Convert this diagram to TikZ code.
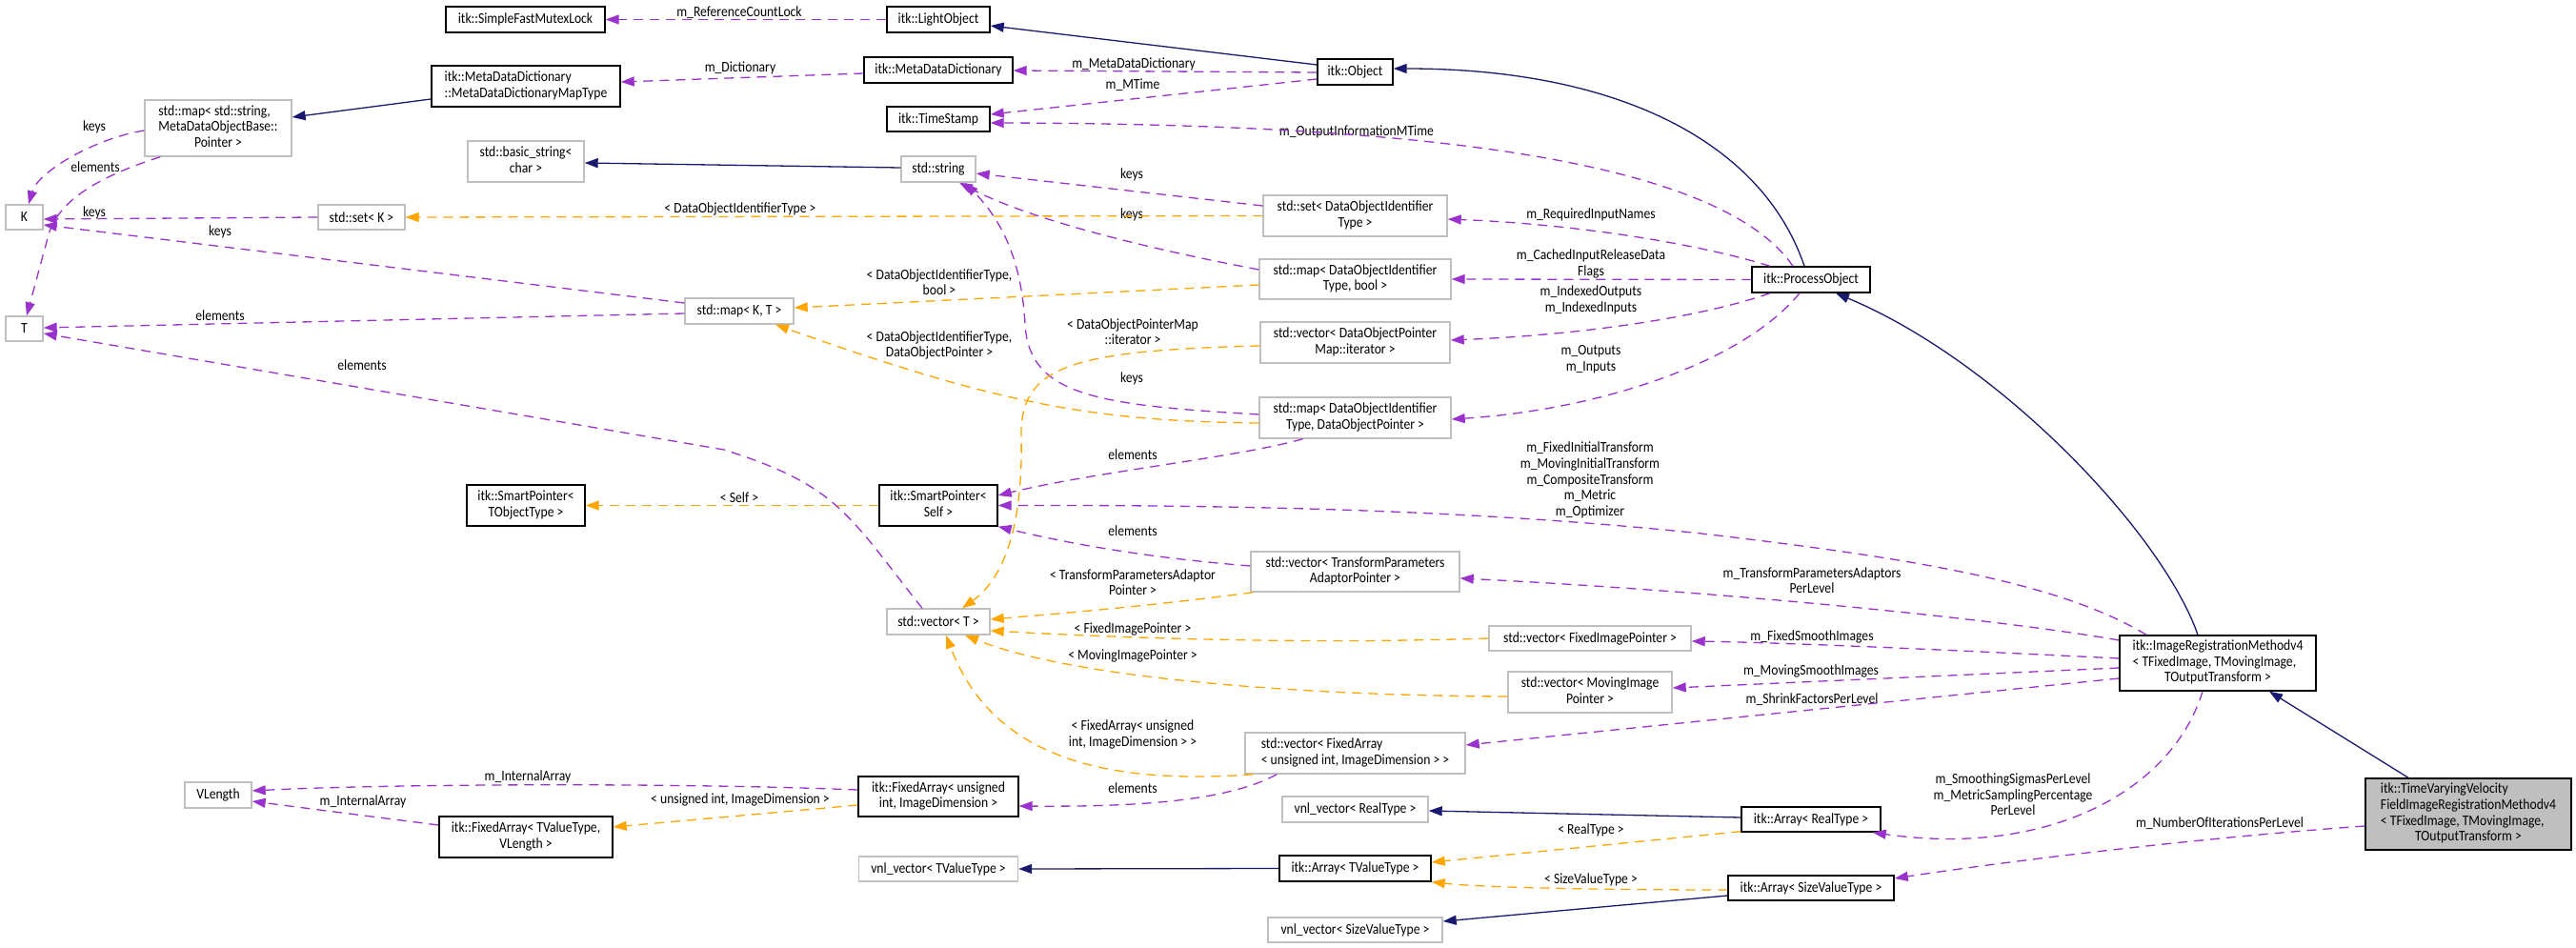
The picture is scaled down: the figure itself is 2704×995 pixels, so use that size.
\documentclass[tikz,border=0pt]{standalone}
\usepackage{fontspec}
\setmainfont{Carlito}[FakeStretch=0.88]
\usetikzlibrary{arrows.meta,calc}
\definecolor{cpurple}{HTML}{9A32CD}
\definecolor{corange}{HTML}{FFA500}
\definecolor{cblue}{HTML}{191970}
\definecolor{gborder}{HTML}{BFBFBF}
\definecolor{gfill}{HTML}{BFBFBF}
\newcommand\dfont{\fontsize{15.5}{16.6}\selectfont}
\newcommand\NLt[2]{\begin{tabular}{@{}l@{}}#1\\\multicolumn{1}{@{}c@{}}{#2}\end{tabular}}
\tikzset{
  basebox/.style={draw, rectangle, inner sep=2pt, line width=1.4pt, font=\dfont, align=center},
  bbox/.style={basebox, draw=black, fill=white},
  gbox/.style={basebox, draw=gborder, fill=white},
  hbox/.style={basebox, draw=black, fill=gfill},
  lbl/.style={font=\dfont, align=center, inner sep=0pt},
  tipA/.style={-{Triangle[length=14pt,width=10pt]}},
  usedge/.style={draw=cpurple, line width=1.3pt, dash pattern=on 10pt off 7pt, tipA},
  tmpledge/.style={draw=corange, line width=1.3pt, dash pattern=on 10pt off 7pt, tipA},
  inhedge/.style={draw=cblue, line width=1.3pt, tipA},
}
\begin{document}
\begin{tikzpicture}[x=1pt,y=-1pt]
\useasboundingbox (0,0) rectangle (2704,995);
% ---------- nodes ----------
\node[bbox, minimum width=167pt, minimum height=27pt] (sfml) at (551.5,20.5) {itk::SimpleFastMutexLock};
\node[bbox, minimum width=108pt, minimum height=27pt] (light) at (985,20.5) {itk::LightObject};
\node[bbox, minimum width=198pt, minimum height=43pt] (mapType) at (552,90.5) {\NLt{itk::MetaDataDictionary}{::MetaDataDictionaryMapType}};
\node[bbox, minimum width=156pt, minimum height=27pt] (mdd) at (985,73.5) {itk::MetaDataDictionary};
\node[bbox, minimum width=79pt, minimum height=27pt] (obj) at (1422.5,75.5) {itk::Object};
\node[bbox, minimum width=108pt, minimum height=26pt] (ts) at (985,125) {itk::TimeStamp};
\node[gbox, minimum width=154pt, minimum height=59pt] (mapstr) at (229,134.5) {\NLt{std::map< std::string,\\MetaDataObjectBase::}{Pointer >}};
\node[gbox, minimum width=122pt, minimum height=43pt] (bstr) at (552,169.5) {\NLt{std::basic\_string<}{char >}};
\node[gbox, minimum width=78pt, minimum height=27pt] (str) at (985,177.5) {std::string};
\node[gbox, minimum width=39pt, minimum height=26pt] (nK) at (25.5,228) {K};
\node[gbox, minimum width=91pt, minimum height=26pt] (setK) at (379.5,228) {std::set< K >};
\node[gbox, minimum width=39pt, minimum height=26pt] (nT) at (25.5,345) {T};
\node[gbox, minimum width=193pt, minimum height=43pt] (setDOIT) at (1422.5,226.5) {\NLt{std::set< DataObjectIdentifier}{Type >}};
\node[gbox, minimum width=201pt, minimum height=42pt] (mapBool) at (1422.5,293) {\NLt{std::map< DataObjectIdentifier}{Type, bool >}};
\node[gbox, minimum width=114pt, minimum height=27pt] (mapKT) at (776,326.5) {std::map< K, T >};
\node[bbox, minimum width=124pt, minimum height=27pt] (po) at (1901,293.5) {itk::ProcessObject};
\node[gbox, minimum width=199pt, minimum height=43pt] (vecIter) at (1422.5,359.5) {\NLt{std::vector< DataObjectPointer}{Map::iterator >}};
\node[gbox, minimum width=201pt, minimum height=43pt] (mapDOP) at (1422.5,438.5) {\NLt{std::map< DataObjectIdentifier}{Type, DataObjectPointer >}};
\node[bbox, minimum width=124pt, minimum height=43pt] (spSelf) at (985,530.5) {\NLt{itk::SmartPointer<}{Self >}};
\node[bbox, minimum width=124pt, minimum height=43pt] (spTO) at (552,530.5) {\NLt{itk::SmartPointer<}{TObjectType >}};
\node[gbox, minimum width=219pt, minimum height=42pt] (vecTPAP) at (1422.5,600) {\NLt{std::vector< TransformParameters}{AdaptorPointer >}};
\node[gbox, minimum width=108pt, minimum height=27pt] (vecT) at (985,652.5) {std::vector< T >};
\node[gbox, minimum width=212pt, minimum height=26pt] (vecFIP) at (1669,670) {std::vector< FixedImagePointer >};
\node[gbox, minimum width=172pt, minimum height=43pt] (vecMIP) at (1669,726.5) {\NLt{std::vector< MovingImage}{Pointer >}};
\node[gbox, minimum width=231pt, minimum height=43pt] (vecFA) at (1422.5,790.5) {\NLt{std::vector< FixedArray}{< unsigned int, ImageDimension > >}};
\node[bbox, minimum width=206pt, minimum height=58pt] (irm) at (2328,696) {\NLt{itk::ImageRegistrationMethodv4\\< TFixedImage, TMovingImage,}{TOutputTransform >}};
\node[hbox, minimum width=216pt, minimum height=75pt] (tv) at (2591,854.5) {\NLt{itk::TimeVaryingVelocity\\FieldImageRegistrationMethodv4\\< TFixedImage, TMovingImage,}{TOutputTransform >}};
\node[bbox, minimum width=168pt, minimum height=42pt] (faUint) at (985,836) {\NLt{itk::FixedArray< unsigned}{int, ImageDimension >}};
\node[gbox, minimum width=167pt, minimum height=26pt] (vnlTVT) at (985,912) {vnl\_vector< TValueType >};
\node[gbox, minimum width=153pt, minimum height=27pt] (vnlReal) at (1422.5,849.5) {vnl\_vector< RealType >};
\node[bbox, minimum width=146pt, minimum height=26pt] (arrReal) at (1901,860) {itk::Array< RealType >};
\node[bbox, minimum width=159pt, minimum height=27pt] (arrTVT) at (1422.5,911.5) {itk::Array< TValueType >};
\node[bbox, minimum width=174pt, minimum height=26pt] (arrSVT) at (1901,932) {itk::Array< SizeValueType >};
\node[gbox, minimum width=183pt, minimum height=26pt] (vnlSVT) at (1422.5,976) {vnl\_vector< SizeValueType >};
\node[gbox, minimum width=70pt, minimum height=27pt] (VLength) at (229,834.5) {VLength};
\node[bbox, minimum width=182pt, minimum height=43pt] (faTVT) at (552,878.5) {\NLt{itk::FixedArray< TValueType,}{VLength >}};
% ---------- labels ----------
\node[lbl] (l1) at (776,13) {m\_ReferenceCountLock};
\node[lbl] (l2) at (777,71) {m\_Dictionary};
\node[lbl] (l3) at (1190,67) {m\_MetaDataDictionary};
\node[lbl] (l4) at (1189,89) {m\_MTime};
\node[lbl] (l5) at (1424,138) {m\_OutputInformationMTime};
\node[lbl] (l6) at (99,133) {keys};
\node[lbl] (l7) at (100,175) {elements};
\node[lbl] (l8) at (99,223) {keys};
\node[lbl] (l9) at (231,243) {keys};
\node[lbl] (l10) at (231,331) {elements};
\node[lbl] (l11) at (380,383) {elements};
\node[lbl] (l12) at (777,219) {< DataObjectIdentifierType >};
\node[lbl] (l13) at (1188,183) {keys};
\node[lbl] (l14) at (1188,225) {keys};
\node[lbl] (l15) at (986,296) {< DataObjectIdentifierType,\\bool >};
\node[lbl] (l16) at (986,362.5) {< DataObjectIdentifierType,\\DataObjectPointer >};
\node[lbl] (l17) at (1189,348) {< DataObjectPointerMap\\::iterator >};
\node[lbl] (l18) at (1188,397) {keys};
\node[lbl] (l19) at (1189,477) {elements};
\node[lbl] (l20) at (776,522) {< Self >};
\node[lbl] (l21) at (1189,557) {elements};
\node[lbl] (l22) at (1189,611) {< TransformParametersAdaptor\\Pointer >};
\node[lbl] (l23) at (1189,660) {< FixedImagePointer >};
\node[lbl] (l24) at (1189,688) {< MovingImagePointer >};
\node[lbl] (l25) at (1189,771) {< FixedArray< unsigned\\int, ImageDimension > >};
\node[lbl] (l26) at (1189,827) {elements};
\node[lbl] (l27) at (777,839) {< unsigned int, ImageDimension >};
\node[lbl] (l28) at (554,815) {m\_InternalArray};
\node[lbl] (l29) at (381,841) {m\_InternalArray};
\node[lbl] (l30) at (1670,225) {m\_RequiredInputNames};
\node[lbl] (l31) at (1670,277) {m\_CachedInputReleaseData\\Flags};
\node[lbl] (l32) at (1670,315) {m\_IndexedOutputs\\m\_IndexedInputs};
\node[lbl] (l33) at (1670,377) {m\_Outputs\\m\_Inputs};
\node[lbl] (l34) at (1669,504) {m\_FixedInitialTransform\\m\_MovingInitialTransform\\m\_CompositeTransform\\m\_Metric\\m\_Optimizer};
\node[lbl] (l35) at (1902,609) {m\_TransformParametersAdaptors\\PerLevel};
\node[lbl] (l36) at (1902,668) {m\_FixedSmoothImages};
\node[lbl] (l37) at (1901,704) {m\_MovingSmoothImages};
\node[lbl] (l38) at (1902,734) {m\_ShrinkFactorsPerLevel};
\node[lbl] (l39) at (2113,834) {m\_SmoothingSigmasPerLevel\\m\_MetricSamplingPercentage\\PerLevel};
\node[lbl] (l40) at (2330,864) {m\_NumberOfIterationsPerLevel};
\node[lbl] (l41) at (1670,871) {< RealType >};
\node[lbl] (l42) at (1670,923) {< SizeValueType >};
% ---------- edges ----------
\draw[usedge] (light.west) -- (sfml.east);
\draw[inhedge] ($(obj.west)+(0,-7.5)$) -- ($(light.east)+(0,6.5)$);
\draw[usedge] ($(mdd.west)+(0,3.5)$) -- ($(mapType.east)+(0,-4.5)$);
\draw[usedge] ($(obj.west)+(0,0.5)$) -- ($(mdd.east)+(0,0.5)$);
\draw[usedge] ($(obj.west)+(0,7.5)$) -- ($(ts.east)+(0,-5)$);
\draw[usedge] ($(po.north)+(-19,0)$) .. controls (1800,160) and (1450,130) .. ($(ts.east)+(0,4)$);
\draw[inhedge] ($(mapType.west)+(0,13.5)$) -- ($(mapstr.east)+(0,-11.5)$);
\draw[usedge] ($(mapstr.west)+(0,2.5)$) .. controls (100,145) and (40,180) .. ($(nK.north)+(4.5,0)$);
\draw[usedge] ($(mapstr.south west)+(17,0)$) .. controls (95,188) and (58,215) .. (50,250) -- ($(nT.north)+(2.5,0)$);
\draw[inhedge] ($(str.west)+(0,-1.5)$) -- ($(bstr.east)+(0,1.5)$);
\draw[usedge] (setK.west) -- ($(nK.east)+(0,2)$);
\draw[usedge] ($(mapKT.west)+(0,-8.5)$) -- ($(nK.east)+(0,8)$);
\draw[usedge] ($(mapKT.west)+(0,2.5)$) -- ($(nT.east)+(0,-1)$);
\draw[usedge] ($(vecT.north)+(-17,0)$) .. controls (890,540) and (880,510) .. (760,472) -- ($(nT.east)+(0,5)$);
\draw[tmpledge] (setDOIT.west) -- (setK.east);
\draw[usedge] ($(setDOIT.west)+(0,-10.5)$) -- ($(str.east)+(0,4.5)$);
\draw[usedge] ($(mapBool.west)+(0,-10)$) .. controls (1200,260) and (1080,230) .. ($(str.south)+(22,0)$);
\draw[tmpledge] ($(mapBool.west)+(0,6)$) -- ($(mapKT.east)+(0,-3.5)$);
\draw[tmpledge] ($(mapDOP.west)+(0,5.5)$) .. controls (1150,442) and (1050,425) .. ($(mapKT.south)+(38,0)$);
\draw[usedge] ($(mapDOP.west)+(0,-3.5)$) .. controls (1150,425) and (1080,415) .. (1076,340) .. controls (1072,270) and (1050,230) .. ($(str.south)+(28,0)$);
\draw[usedge] ($(mapDOP.south)+(-55,0)$) .. controls (1300,480) and (1150,495) .. ($(spSelf.east)+(0,-10.5)$);
\draw[tmpledge] ($(vecIter.west)+(0,3.5)$) .. controls (1120,368) and (1070,385) .. (1072,460) .. controls (1074,560) and (1050,610) .. ($(vecT.north)+(25,0)$);
\draw[inhedge] ($(po.north)+(-7,0)$) .. controls (1850,150) and (1700,72) .. ($(obj.east)+(0,-3.5)$);
\draw[usedge] ($(po.north)+(-43,0)$) .. controls (1780,255) and (1650,235) .. ($(setDOIT.east)+(0,3.5)$);
\draw[usedge] (po.west) -- (mapBool.east);
\draw[usedge] ($(po.south)+(-43,0)$) .. controls (1780,335) and (1650,352) .. ($(vecIter.east)+(0,-2.5)$);
\draw[usedge] ($(po.south)+(-12,0)$) .. controls (1830,380) and (1680,430) .. ($(mapDOP.east)+(0,1.5)$);
\draw[inhedge] ($(irm.north)+(-21,0)$) .. controls (2270,560) and (2100,380) .. ($(po.south)+(26,0)$);
\draw[usedge] ($(irm.north)+(-75,0)$) .. controls (2160,610) and (2000,585) .. (1786,560) .. controls (1550,535) and (1300,530) .. (spSelf.east);
\draw[usedge] ($(irm.west)+(0,-24)$) .. controls (2100,650) and (1800,620) .. ($(vecTPAP.east)+(0,7)$);
\draw[usedge] ($(vecTPAP.west)+(0,-6)$) .. controls (1200,585) and (1120,570) .. (spSelf.south east);
\draw[tmpledge] ($(vecTPAP.south west)+(3,0)$) .. controls (1200,637) and (1100,645) .. ($(vecT.east)+(0,-2.5)$);
\draw[tmpledge] (vecFIP.west) .. controls (1350,677) and (1150,668) .. ($(vecT.east)+(0,9.5)$);
\draw[tmpledge] ($(vecMIP.west)+(0,4.5)$) .. controls (1350,730) and (1120,710) .. ($(vecT.south)+(28,0)$);
\draw[tmpledge] ($(vecFA.south west)+(9,0)$) .. controls (1150,825) and (1040,790) .. ($(vecT.south)+(8,0)$);
\draw[usedge] ($(vecFA.south west)+(34,0)$) .. controls (1290,840) and (1200,847) .. ($(faUint.east)+(0,10)$);
\draw[usedge] ($(irm.west)+(0,-5)$) .. controls (2100,685) and (1900,675) .. ($(vecFIP.east)+(0,3)$);
\draw[usedge] ($(irm.west)+(0,5)$) -- ($(vecMIP.east)+(0,-4.5)$);
\draw[usedge] ($(irm.west)+(0,16)$) -- ($(vecFA.east)+(0,-8.5)$);
\draw[usedge] ($(irm.south)+(-16,0)$) .. controls (2280,830) and (2150,900) .. ($(arrReal.south east)+(-9,0)$);
\draw[inhedge] ($(tv.north)+(-63,0)$) -- ($(irm.south)+(54,0)$);
\draw[usedge] ($(tv.west)+(0,12.5)$) .. controls (2300,880) and (2100,905) .. ($(arrSVT.east)+(0,-10)$);
\draw[inhedge] ($(arrReal.west)+(0,-2)$) -- ($(vnlReal.east)+(0,1.5)$);
\draw[tmpledge] ($(arrReal.south west)+(0,-1)$) -- ($(arrTVT.east)+(0,-6.5)$);
\draw[tmpledge] ($(arrSVT.west)+(0,2)$) .. controls (1700,934) and (1560,932) .. (arrTVT.south east);
\draw[inhedge] ($(arrSVT.west)+(0,8)$) -- ($(vnlSVT.east)+(0,-9)$);
\draw[inhedge] (arrTVT.west) -- (vnlTVT.east);
\draw[usedge] ($(faUint.west)+(0,-7)$) .. controls (700,821) and (400,823) .. ($(VLength.east)+(0,-4.5)$);
\draw[usedge] ($(faTVT.west)+(0,-12.5)$) -- ($(VLength.east)+(0,6.5)$);
\draw[tmpledge] ($(faUint.west)+(0,9)$) -- ($(faTVT.east)+(0,-10.5)$);
\draw[tmpledge] (spSelf.west) -- (spTO.east);
\end{tikzpicture}
\end{document}
